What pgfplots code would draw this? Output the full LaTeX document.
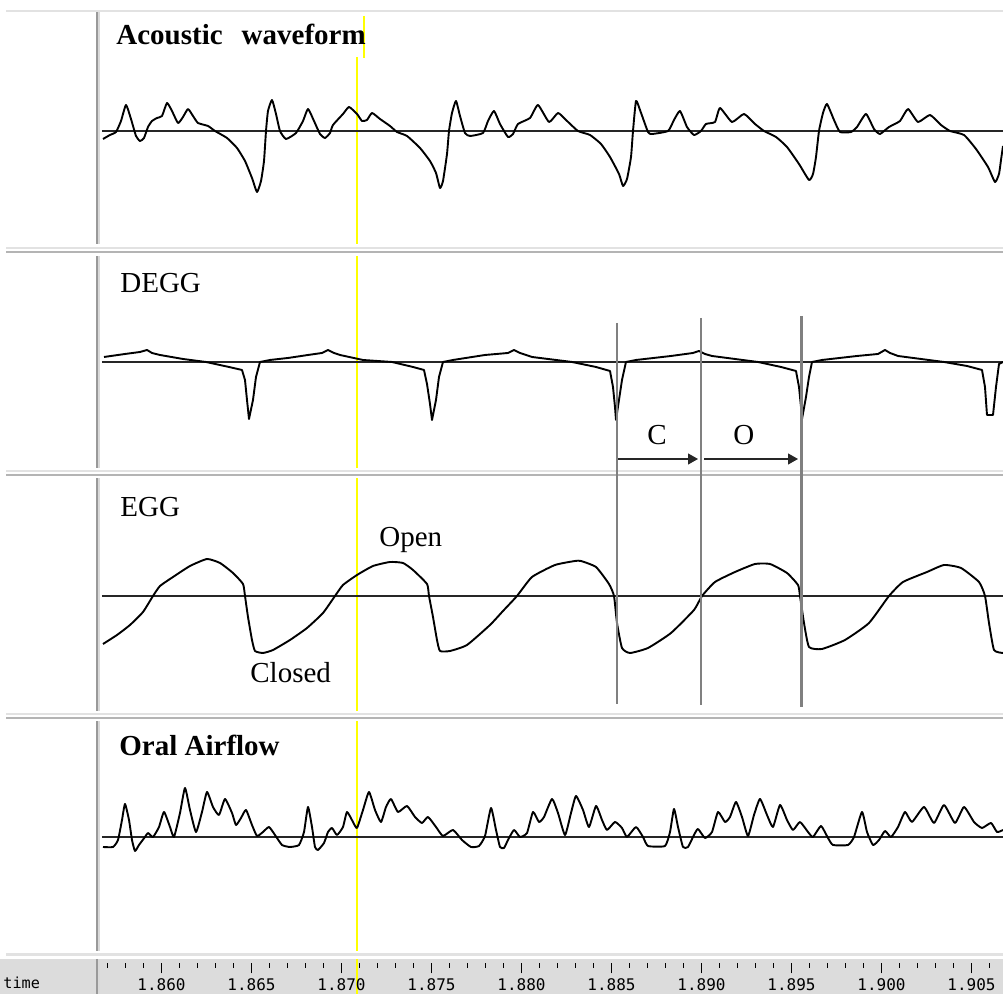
\documentclass[border=0pt]{standalone}
\usepackage{pgfplots}
\pgfplotsset{compat=1.18}
\usepackage{fontspec}
\setmainfont{Liberation Serif}
\setmonofont{DejaVu Sans Mono}
\usetikzlibrary{arrows.meta}
\definecolor{sepdark}{HTML}{B4B4B4}
\definecolor{seplight}{HTML}{E2E2E2}
\definecolor{stripbg}{HTML}{DCDCDC}
\definecolor{cursor}{HTML}{808080}
\definecolor{yel}{HTML}{FFFF00}
\newcommand\lab{\fontsize{14.5pt}{16pt}\selectfont}
\pgfplotsset{
  pix/.style={at={(0pt,0pt)}, anchor=south west, scale only axis, width=501.5pt, height=497pt,
    xmin=0, xmax=1003, ymin=0, ymax=994, y dir=reverse, hide axis, clip=false},
  panel/.style={anchor=south west, scale only axis, width=452pt, xmin=99, xmax=1003, hide axis, clip=true},
  wave/.style={black, line width=0.95pt, line join=round, smooth, tension=0.3},
  sharpwave/.style={black, line width=0.95pt, line join=round},
  base/.style={black!85, line width=0.7pt},
}
\begin{document}
\begin{tikzpicture}
\useasboundingbox (0,0) rectangle (501.5pt,497pt);
% ---------- background frame ----------
\begin{axis}[pix]
  \fill[stripbg] (axis cs:0,959) rectangle (axis cs:1003,994);
  \addplot[yel, line width=0.75pt] coordinates {(357,57) (357,994)};
  \addplot[yel, line width=0.75pt] coordinates {(364,16) (364,58)};
  \draw[black!40, line width=0.6pt] (axis cs:97,11) -- (axis cs:97,994);
  \draw[black!15, line width=0.6pt] (axis cs:99,11) -- (axis cs:99,994);
  \draw[seplight, line width=1pt] (axis cs:6,11) -- (axis cs:1003,11);
  \fill[white] (axis cs:0,244) rectangle (axis cs:1003,256);
  \draw[seplight, line width=1pt] (axis cs:6,248) -- (axis cs:1003,248);
  \draw[sepdark, line width=1pt] (axis cs:6,252) -- (axis cs:1003,252);
  \fill[white] (axis cs:0,468) rectangle (axis cs:1003,478);
  \draw[seplight, line width=1pt] (axis cs:6,471.5) -- (axis cs:1003,471.5);
  \draw[sepdark, line width=1pt] (axis cs:6,475) -- (axis cs:1003,475);
  \fill[white] (axis cs:0,711) rectangle (axis cs:1003,721);
  \draw[seplight, line width=1pt] (axis cs:6,714) -- (axis cs:1003,714);
  \draw[sepdark, line width=1pt] (axis cs:6,718.5) -- (axis cs:1003,718.5);
  \fill[white] (axis cs:0,951) rectangle (axis cs:1003,959);
  \draw[seplight, line width=1.2pt] (axis cs:6,954.5) -- (axis cs:1003,954.5);
  \addplot[yel, line width=0.75pt] coordinates {(357,959) (357,994)};
  \draw[black!40, line width=0.6pt] (axis cs:97,959) -- (axis cs:97,994);
  \node[anchor=base west, inner sep=0, font=\ttfamily\fontsize{7.6pt}{9pt}\selectfont] at (axis cs:3,988) {time};
\end{axis}
% ---------- time axis ----------
\begin{axis}[at={(49.5pt,15.5pt)}, anchor=south west, scale only axis, width=452pt, height=5pt,
  xmin=99, xmax=1003, ymin=0, ymax=1,
  axis x line*=bottom, hide y axis, x axis line style={draw=none},
  xtick={161.5,251.5,341.5,431.5,521.5,611.5,701.5,791.5,881.5,971.5},
  xticklabels={1.860,1.865,1.870,1.875,1.880,1.885,1.890,1.895,1.900,1.905},
  minor xtick={107.5,125.5,...,989.5},
  tick align=outside, major tick length=5.2pt, minor tick length=2.3pt,
  tick style={black, line width=0.5pt},
  xticklabel style={font=\ttfamily\fontsize{8pt}{9pt}\selectfont, anchor=base, yshift=-8.5pt}]
  \addplot[draw=none] coordinates {(99,0) (1003,0)};
\end{axis}
% ---------- Acoustic waveform ----------
\begin{axis}[panel, at={(49.5pt,372.5pt)}, height=118.5pt, ymin=-118, ymax=119]
  \addplot[base] coordinates {(102,0) (1003,0)};
  \addplot[wave] coordinates {
(103,-8) (110,-4) (116,-1) (121,10) (126,26) (131,12) (136,-5) (140,-10) (144,-7) (148,4)
(152,10) (157,13) (162,15) (167,28) (172,20) (178,8) (183,14) (188,22) (193,15) (198,8)
(208,5) (215,0) (227,-7) (237,-17) (245,-30) (252,-47) (257,-61) (261,-50) (264,-30) (266,0)
(268,20) (272,31) (276,17) (280,0) (286,-8) (296,-2) (303,10) (308,22) (314,10) (320,-3)
(325,-7) (330,-2) (333,6) (343,17) (349,24) (357,17) (362,10) (367,11) (372,18) (380,12)
(390,5) (397,-1) (407,-5) (420,-17) (430,-30) (436,-42) (440,-57) (443,-50) (447,-23) (449,0)
(452,18) (456,30) (460,15) (465,-2) (470,-5) (483,-2) (488,10) (494,20) (500,7) (508,-6)
(513,-3) (518,7) (530,13) (538,26) (549,9) (558,18) (566,11) (578,0) (590,-4) (601,-13)
(610,-26) (619,-43) (623,-55) (627,-48) (631,-26) (633,0) (636,30) (640,21) (648,-1) (652,-3)
(668,0) (674,11) (680,20) (687,4) (694,-4) (701,0) (706,7) (715,9) (720,23) (732,9)
(744,17) (755,7) (764,0) (776,-6) (787,-16) (799,-33) (809,-49) (813,-43) (816,-26) (819,0)
(823,18) (827,27) (834,11) (840,-1) (851,-1) (857,4) (866,17) (874,2) (880,-3) (889,4)
(900,10) (908,22) (918,9) (930,16) (941,6) (950,0) (964,-4) (976,-18) (988,-36) (995,-51)
(999,-43) (1001,-29) (1003,-15)};
\end{axis}
% ---------- DEGG ----------
\begin{axis}[panel, at={(49.5pt,261pt)}, height=109.5pt, ymin=-110, ymax=109]
  \addplot[base] coordinates {(102,0) (1003,0)};
  \addplot[sharpwave] coordinates {
(104,5) (125,8) (140,10) (147,12) (152,9) (160,7) (183,3) (206,0) (229,-5) (242,-8)
(245,-18) (247,-38) (249,-57) (253,-38) (256,-15) (260,0) (270,2) (288,4) (308,7) (322,9)
(328,12) (334,9) (340,7) (363,2) (392,0) (413,-5) (424,-8) (427,-22) (430,-42) (432,-58)
(436,-38) (439,-15) (443,0) (453,2) (485,7) (508,9) (514,12) (520,9) (532,5) (572,0)
(596,-5) (610,-9) (613,-25) (615,-45) (616,-58) (619,-38) (622,-18) (626,0) (636,2) (671,6)
(693,9) (699,11) (705,8) (712,6) (758,0) (781,-5) (796,-9) (799,-25) (801,-45) (802,-57)
(806,-35) (809,-15) (812,0) (822,2) (857,6) (878,8) (885,12) (890,9) (898,6) (944,0)
(967,-4) (982,-8) (985,-25) (987,-53) (993,-53) (996,-25) (999,-2) (1003,0)};
\end{axis}
% ---------- EGG ----------
\begin{axis}[panel, at={(49.5pt,139.5pt)}, height=119pt, ymin=-119, ymax=119]
  \addplot[base] coordinates {(102,0) (1003,0)};
  \addplot[wave] coordinates {
(103,-48) (117,-39) (130,-29) (143,-16) (153,0) (160,10) (173,19) (190,30) (207,37) (220,33)
(233,23) (243,12) (245,0) (248,-21) (252,-44) (255,-55) (263,-57) (273,-54) (290,-44) (307,-32)
(323,-17) (335,0) (343,11) (357,21) (373,30) (390,34) (403,33) (413,26) (427,12) (429,0)
(433,-21) (437,-44) (440,-55) (450,-55) (467,-49) (490,-29) (503,-15) (517,0) (532,19) (555,31)
(575,35) (581,35) (596,29) (609,12) (614,0) (617,-27) (622,-52) (630,-57) (648,-52) (671,-37)
(694,-14) (702,0) (715,14) (735,24) (755,32) (770,32) (787,23) (798,11) (800,0) (804,-27)
(809,-51) (822,-53) (845,-44) (869,-27) (889,0) (903,14) (927,24) (944,31) (961,28) (979,14)
(985,0) (989,-27) (994,-54) (1003,-57)};
\end{axis}
% ---------- Oral Airflow ----------
\begin{axis}[panel, at={(49.5pt,21pt)}, height=116pt, ymin=-115, ymax=117]
  \addplot[base] coordinates {(102,0) (1003,0)};
  \addplot[wave] coordinates {
(103,-10) (113,-10) (118,-3) (122,17) (125,33) (129,17) (132,-3) (135,-14) (139,-8) (145,0)
(148,4) (153,0) (159,10) (164,25) (170,10) (174,0) (180,24) (185,49) (190,27) (196,5)
(202,25) (207,45) (213,30) (219,22) (225,38) (232,24) (236,12) (241,19) (246,27) (252,12)
(257,1) (263,5) (269,10) (275,2) (282,-8) (290,-10) (299,-8) (304,5) (308,30) (312,10)
(315,-10) (318,-13) (324,-6) (328,5) (332,9) (337,2) (343,10) (347,25) (353,15) (357,9)
(363,27) (369,45) (375,27) (381,15) (386,30) (391,38) (398,25) (407,31) (415,20) (422,14)
(428,20) (436,10) (443,1) (453,7) (462,-3) (471,-10) (479,-9) (485,1) (491,29) (496,7)
(500,-10) (504,-11) (508,-3) (514,7) (520,0) (527,4) (533,25) (539,15) (544,20) (552,38)
(558,24) (565,2) (571,24) (576,41) (583,27) (589,10) (596,31) (602,17) (607,7) (615,15)
(622,9) (627,0) (636,10) (643,0) (648,-9) (665,-9) (670,5) (674,28) (678,10) (683,-10)
(688,-10) (694,2) (698,8) (705,-1) (712,5) (718,25) (725,15) (730,20) (736,35) (742,20)
(748,1) (754,22) (760,38) (767,22) (773,10) (780,32) (787,17) (793,7) (800,15) (808,5)
(813,0) (821,11) (828,-1) (833,-8) (848,-8) (854,0) (862,25) (867,5) (873,-8) (879,-3)
(885,6) (891,0) (898,10) (905,25) (912,15) (924,30) (934,14) (944,32) (955,14) (964,30)
(974,15) (982,9) (991,14) (997,5) (1003,7)};
\end{axis}
% ---------- foreground: cursors, arrows, labels ----------
\begin{axis}[pix]
  \addplot[cursor, line width=1.3pt] coordinates {(617,323) (617,704)};
  \addplot[cursor, line width=1.3pt] coordinates {(701,318) (701,705)};
  \addplot[cursor, line width=1.3pt] coordinates {(801.5,316) (801.5,707)};
  \addplot[black!85, line width=0.6pt, -{Triangle[length=5pt,width=5.5pt]}] coordinates {(618,459) (698,459)};
  \addplot[black!85, line width=0.6pt, -{Triangle[length=5pt,width=5.5pt]}] coordinates {(704,459) (798,459)};
  \node[anchor=base west, inner sep=0] at (axis cs:116,45) {\lab\bfseries Acoustic\hspace{9.5pt}waveform};
  \node[anchor=base west, inner sep=0] at (axis cs:120,292.5) {\lab DEGG};
  \node[anchor=base west, inner sep=0] at (axis cs:120,516.5) {\lab EGG};
  \node[anchor=base west, inner sep=0] at (axis cs:119,755.5) {\lab\bfseries Oral Airflow};
  \node[anchor=base west, inner sep=0] at (axis cs:379,547) {\lab Open};
  \node[anchor=base west, inner sep=0] at (axis cs:250,683) {\lab Closed};
  \node[anchor=base west, inner sep=0] at (axis cs:647,445) {\lab C};
  \node[anchor=base west, inner sep=0] at (axis cs:733,445) {\lab O};
\end{axis}
\end{tikzpicture}
\end{document}
